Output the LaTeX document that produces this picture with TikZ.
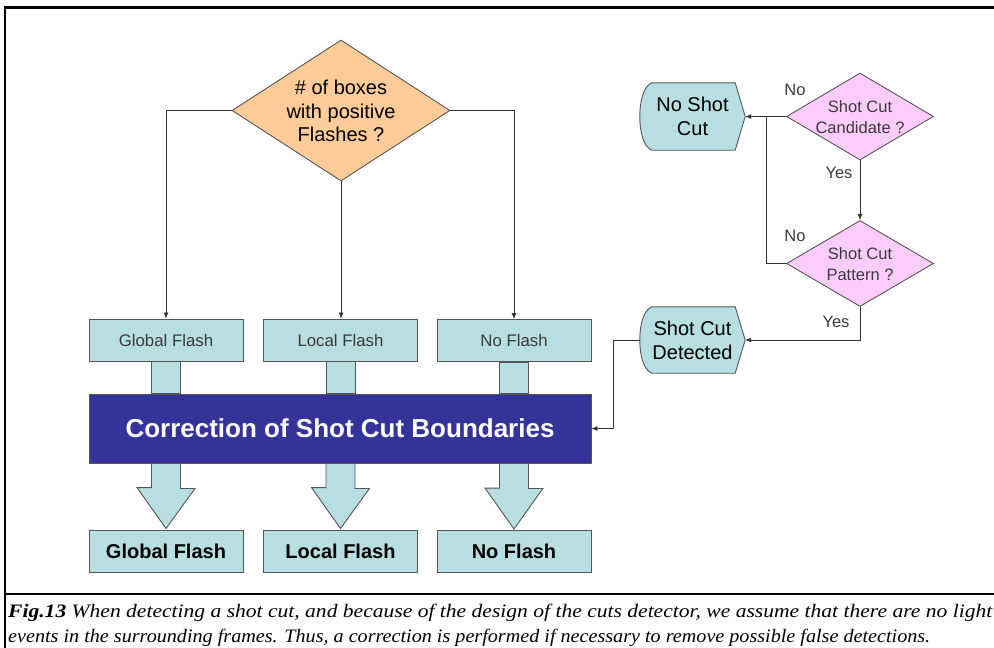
\documentclass[tikz,border=0pt]{standalone}
\usepackage{fontspec}
\setmainfont{Liberation Sans}
\newfontfamily\capfont{Liberation Serif}
\usetikzlibrary{shapes.geometric,calc,arrows.meta}
\definecolor{orangefill}{HTML}{FFCC99}
\definecolor{cyanfill}{HTML}{B7DEE0}
\definecolor{bluefill}{HTML}{333399}
\definecolor{pinkfill}{HTML}{FFCCFF}
\definecolor{edgegray}{HTML}{555555}
\definecolor{txtgray}{HTML}{3A3A3A}
\tikzset{
  box/.style={rectangle, draw=edgegray, fill=cyanfill, line width=0.9pt, inner sep=0pt},
  smallbox/.style={box, minimum width=154pt, minimum height=42pt, font=\fontsize{16.8}{20}\selectfont, text=txtgray},
  boldbox/.style={box, minimum width=154pt, minimum height=42pt, font=\fontsize{20}{24}\selectfont\bfseries},
  ddiam/.style={diamond, draw=edgegray, line width=0.9pt, inner sep=0pt},
  conn/.style={draw=black!80, line width=0.8pt, -{Latex[length=6pt,width=5pt]}},
  plain/.style={draw=black!80, line width=0.8pt},
  stub/.style={draw=edgegray, fill=cyanfill, line width=0.9pt},
  lbl/.style={font=\fontsize{16.5}{19}\selectfont, text=txtgray},
  disp/.style={rectangle, inner sep=0pt, minimum width=105pt},
  disptext/.style={align=center, font=\fontsize{20}{24}\selectfont},
}
\begin{document}
\begin{tikzpicture}[x=1pt,y=-1pt]
\useasboundingbox (0,0) rectangle (994,648);
% frame
\draw[line width=3pt] (4,7) -- (994,7);
\draw[line width=2.2pt] (5,7) -- (5,648);
\draw[line width=2pt] (4,594) -- (994,594);

% orange decision
\node[ddiam, fill=orangefill, minimum width=218pt, minimum height=141pt] (d1) at (341,110.5) {};
\node[align=center, font=\fontsize{20}{23.5}\selectfont] at (341,111) {\# of boxes\\with positive\\Flashes ?};

% top boxes
\node[smallbox] (gf) at (166,340) {Global Flash};
\node[smallbox] (lf) at (340.5,340) {Local Flash};
\node[smallbox] (nf) at (514,340.5) {No Flash};

\draw[conn] (d1.west) -| (gf.north);
\draw[conn] (d1.south) -- (d1.south |- lf.north);
\draw[conn] (d1.east) -| (nf.north);

% correction box
\node[rectangle, draw=edgegray, fill=bluefill, line width=0.9pt, minimum width=502pt, minimum height=69pt, text=white, font=\fontsize{26}{30}\selectfont\bfseries] (cb) at (340,428.5) {Correction of Shot Cut Boundaries};

% stubs
\foreach \n in {gf,lf,nf}{
  \draw[stub] ($(\n.south)+(-14.5,0)$) rectangle ($(\n.south |- cb.north)+(14.5,0)$);
}

% bottom boxes
\node[boldbox] (gfb) at (166,551) {Global Flash};
\node[boldbox] (lfb) at (340.5,551) {Local Flash};
\node[boldbox] (nfb) at (514,551.5) {No Flash};

% block arrows
\foreach \n/\m in {gf/gfb,lf/lfb,nf/nfb}{
  \draw[stub] ($(\n.south |- cb.south)+(-14.5,0)$) -- ++(29,0) -- ++(0,25) -- ++(14.5,0)
     -- ($(\m.north)+(0,-1)$) -- ++(-29,-41) -- ++(14.5,0) -- cycle;
}

% right side decisions
\node[ddiam, fill=pinkfill, minimum width=147pt, minimum height=87pt] (d2) at (860,116.5) {};
\node[align=center, font=\fontsize{16.5}{21}\selectfont, text=txtgray] at (860,117) {Shot Cut\\Candidate ?};
\node[ddiam, fill=pinkfill, minimum width=147pt, minimum height=86pt] (d3) at (860,263.5) {};
\node[align=center, font=\fontsize{16.5}{21}\selectfont, text=txtgray] at (860,264) {Shot Cut\\Pattern ?};

% display shapes
\node[disp, minimum height=67pt] (nsc) at (692.5,116.5) {};
\node[disp, minimum height=66pt] (scd) at (692.5,340) {};
\foreach \n in {nsc,scd}{
  \draw[edgegray, fill=cyanfill, line width=0.9pt] ($(\n.north west)+(12,0)$) -- ($(\n.north east)+(-10,0)$) -- (\n.east)
     -- ($(\n.south east)+(-10,0)$) -- ($(\n.south west)+(12,0)$)
     .. controls ($(\n.south west)+(3,-4)$) and ($(\n.west)+(0,14)$) .. (\n.west)
     .. controls ($(\n.west)+(0,-14)$) and ($(\n.north west)+(3,4)$) .. ($(\n.north west)+(12,0)$) -- cycle;
}
\node[disptext] at (nsc) {No Shot\\Cut};
\node[disptext] at (scd) {Shot Cut\\Detected};

\coordinate (jn) at (766,116.5);
\draw[conn] (d2.west) -- (nsc.east);
\draw[conn] (d2.south) -- (d3.north);
\draw[plain] (d3.west) -| (jn);
\draw[conn] (d3.south) |- (scd.east);
\draw[conn] (scd.west) -- ++(-26,0) |- (cb.east);

\node[lbl] (l1) at (795,90) {No};
\node[lbl] (l2) at (839,173) {Yes};
\node[lbl] (l3) at (795,236) {No};
\node[lbl] (l4) at (836,322) {Yes};

% caption
\node[anchor=base west, inner sep=0pt, font=\capfont\fontsize{19}{22}\selectfont\itshape] (c1) at (8,617)
  {\resizebox{984pt}{\height}{\textbf{Fig.13} When detecting a shot cut, and because of the design of the cuts detector, we assume that there are no light}};
\node[anchor=base west, inner sep=0pt, font=\capfont\fontsize{19}{22}\selectfont\itshape] (c2) at (8,642)
  {\resizebox{922pt}{\height}{events in the surrounding frames. Thus, a correction is performed if necessary to remove possible false detections.}};
\end{tikzpicture}
\end{document}
